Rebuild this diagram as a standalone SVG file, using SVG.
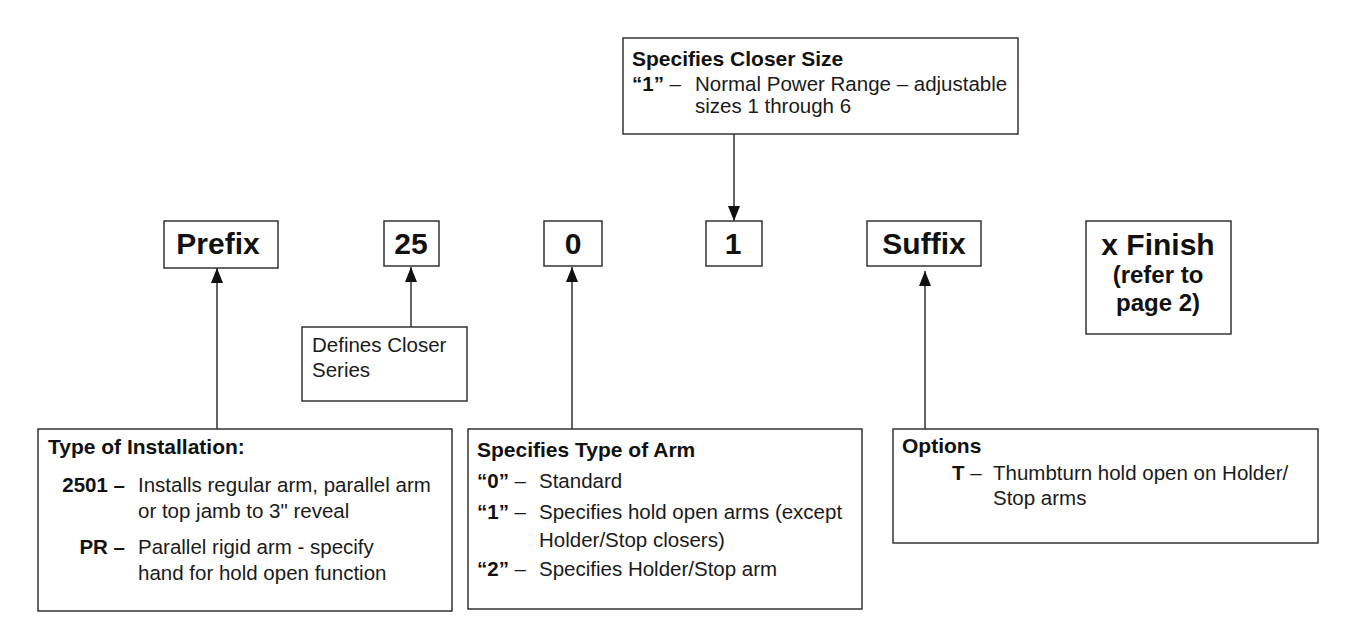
<svg xmlns="http://www.w3.org/2000/svg" width="1360" height="644" viewBox="0 0 1360 644">
<defs>
<style>
.box{fill:#fff;stroke:#333;stroke-width:1.5}
.ln{stroke:#222;stroke-width:1.4;fill:none}
text{font-family:"Liberation Sans",Arial,sans-serif;fill:#111}
.t{font-size:21px;font-weight:bold}
.r{font-size:20.5px;fill:#1a1a1a}
.b{font-weight:bold;fill:#111}
.big{font-size:30px;font-weight:bold;text-anchor:middle}
.mid{font-size:24px;font-weight:bold;text-anchor:middle}
</style>
<marker id="ah" viewBox="0 0 15 12" refX="15" refY="6" markerWidth="15" markerHeight="12" markerUnits="userSpaceOnUse" orient="auto">
<path d="M0,0 L15,6 L0,12 z" fill="#111"/>
</marker>
</defs>
<rect width="1360" height="644" fill="#fff"/>

<g id="connectors">
<line class="ln" x1="217" y1="429" x2="217" y2="268" marker-end="url(#ah)"/>
<line class="ln" x1="411" y1="327" x2="411" y2="267" marker-end="url(#ah)"/>
<line class="ln" x1="572" y1="429" x2="572" y2="267" marker-end="url(#ah)"/>
<line class="ln" x1="734" y1="134" x2="734" y2="221" marker-end="url(#ah)"/>
<line class="ln" x1="925" y1="429" x2="925" y2="271" marker-end="url(#ah)"/>
</g>

<g id="closer-size">
<rect class="box" x="623" y="38" width="395" height="96"/>
<text class="t" x="632" y="66">Specifies Closer Size</text>
<text class="r" x="632" y="91"><tspan class="b">“1”</tspan> –</text>
<text class="r" x="695" y="91">Normal Power Range – adjustable</text>
<text class="r" x="695" y="113">sizes 1 through 6</text>
</g>

<g id="prefix">
<rect class="box" x="164" y="221" width="114" height="47"/>
<text class="big" x="218" y="254">Prefix</text>
</g>

<g id="n25">
<rect class="box" x="384" y="221" width="55" height="45"/>
<text class="big" x="411" y="254">25</text>
</g>

<g id="n0">
<rect class="box" x="544" y="221" width="58" height="45"/>
<text class="big" x="573" y="254">0</text>
</g>

<g id="n1">
<rect class="box" x="706" y="221" width="56" height="45"/>
<text class="big" x="733" y="254">1</text>
</g>

<g id="suffix">
<rect class="box" x="867" y="221" width="114" height="45"/>
<text class="big" x="924" y="254">Suffix</text>
</g>

<g id="finish">
<rect class="box" x="1086" y="221" width="145" height="113"/>
<text class="big" x="1158" y="255">x Finish</text>
<text class="mid" x="1158" y="283">(refer to</text>
<text class="mid" x="1158" y="311">page 2)</text>
</g>

<g id="series">
<rect class="box" x="302" y="327" width="165" height="74"/>
<text class="r" x="312" y="352">Defines Closer</text>
<text class="r" x="312" y="377">Series</text>
</g>

<g id="installation">
<rect class="box" x="38" y="429" width="414" height="182"/>
<text class="t" x="48" y="454">Type of Installation:</text>
<text class="r b" x="125" y="492" text-anchor="end">2501 –</text>
<text class="r" x="138" y="492">Installs regular arm, parallel arm</text>
<text class="r" x="138" y="518">or top jamb to 3" reveal</text>
<text class="r b" x="125" y="554" text-anchor="end">PR –</text>
<text class="r" x="138" y="554">Parallel rigid arm - specify</text>
<text class="r" x="138" y="580">hand for hold open function</text>
</g>

<g id="arm">
<rect class="box" x="468" y="429" width="394" height="180"/>
<text class="t" x="477" y="457">Specifies Type of Arm</text>
<text class="r" x="477" y="488"><tspan class="b">“0”</tspan> –</text>
<text class="r" x="539" y="488">Standard</text>
<text class="r" x="477" y="519"><tspan class="b">“1”</tspan> –</text>
<text class="r" x="539" y="519">Specifies hold open arms (except</text>
<text class="r" x="539" y="547">Holder/Stop closers)</text>
<text class="r" x="477" y="576"><tspan class="b">“2”</tspan> –</text>
<text class="r" x="539" y="576">Specifies Holder/Stop arm</text>
</g>

<g id="options">
<rect class="box" x="893" y="429" width="425" height="114"/>
<text class="t" x="902" y="453">Options</text>
<text class="r" x="952" y="480"><tspan class="b">T</tspan> –</text>
<text class="r" x="993" y="480">Thumbturn hold open on Holder/</text>
<text class="r" x="993" y="505">Stop arms</text>
</g>
</svg>
